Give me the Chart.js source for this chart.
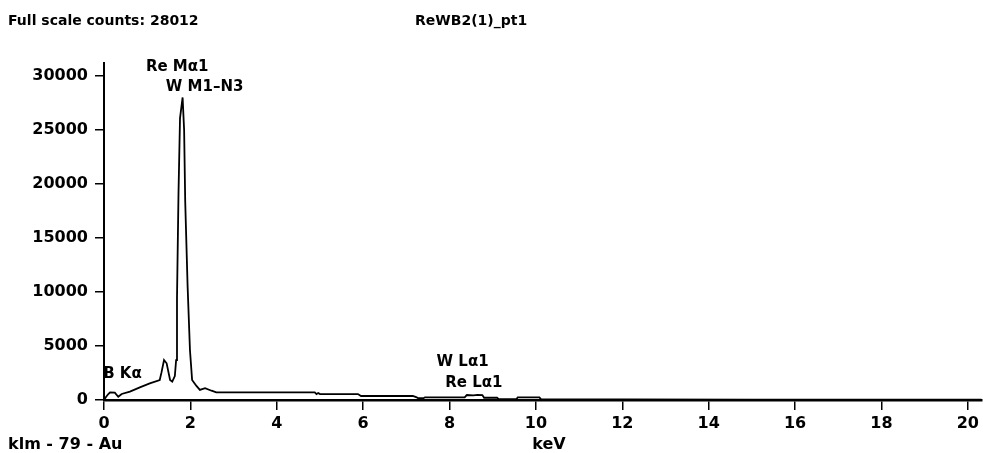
<!DOCTYPE html>
<html>
<head>
<meta charset="utf-8">
<script src="https://cdn.jsdelivr.net/npm/chart.js@4.4.1/dist/chart.umd.min.js"></script>
<style>
  html, body { margin: 0; padding: 0; background: #fff; }
  #wrap { width: 983px; height: 453px; position: relative; }
</style>
</head>
<body>
<div id="wrap"><canvas id="c" width="983" height="453"></canvas></div>
<script>
// ---- data ----
const energyKeV = [
  0.00, 0.05, 0.10, 0.14, 0.25, 0.33, 0.41, 0.60, 0.83, 1.06,
  1.29, 1.33, 1.39, 1.45, 1.53, 1.58, 1.64, 1.67, 1.69, 1.725,
  1.76, 1.82, 1.855, 1.88, 1.935, 1.99, 2.04, 2.14, 2.22, 2.34,
  2.49, 2.60, 3.50, 4.88, 4.92, 4.96, 5.00, 5.88, 5.95, 7.15,
  7.24, 7.27, 7.40, 7.43, 8.35, 8.40, 8.55, 8.65, 8.76, 8.80,
  9.10, 9.14, 9.55, 9.58, 10.08, 10.12, 12.0, 15.0, 20.32
];
const counts = [
  0, 300, 550, 710, 680, 300, 560, 770, 1170, 1540,
  1850, 2530, 3700, 3400, 1850, 1700, 2220, 3700, 9400, 19200,
  26100, 28012, 25000, 18400, 10600, 4630, 1850, 1300, 930, 1100,
  860, 700, 700, 710, 550, 650, 550, 550, 370, 370,
  250, 170, 170, 250, 250, 460, 420, 480, 460, 210,
  210, 80, 80, 250, 250, 60, 50, 40, 30
];
const xTickValues = [0, 2, 4, 6, 8, 10, 12, 14, 16, 18, 20];
const yTickValues = [0, 5000, 10000, 15000, 20000, 25000, 30000];
const peakLabels = ["Re M\u03b11", "W M1\u2013N3", "B K\u03b1", "W L\u03b11", "Re L\u03b11"];
const peakEnergies = [0.97, 1.43, -0.02, 7.7, 7.9];
const peakCounts = [30830, 28980, 2410, 3520, 1570];
const fullScale = 28012;
const sampleName = "ReWB2(1)_pt1";
const footerLeft = "klm - 79 - Au";
const unitLabel = "keV";

// ---- chart ----
const FONT = '"DejaVu Sans", sans-serif';
const points = energyKeV.map((e, i) => ({ x: e, y: counts[i] }));

const textPlugin = {
  id: 'texts',
  afterDraw(chart) {
    const ctx = chart.ctx;
    const xs = chart.scales.x, ys = chart.scales.y;
    ctx.save();
    ctx.fillStyle = '#000';
    ctx.textBaseline = 'middle';
    ctx.textAlign = 'left';
    ctx.font = 'bold 14px ' + FONT;
    ctx.fillText('Full scale counts: ' + fullScale, 8, 21);
    ctx.fillText(sampleName, 415, 21);
    ctx.font = 'bold 16px ' + FONT;
    ctx.fillText(footerLeft, 8, 445);
    ctx.textAlign = 'center';
    ctx.fillText(unitLabel, xs.getPixelForValue(10.3), 445);
    ctx.textAlign = 'left';
    ctx.font = 'bold 15px ' + FONT;
    for (let i = 0; i < peakLabels.length; i++) {
      ctx.fillText(peakLabels[i], xs.getPixelForValue(peakEnergies[i]), ys.getPixelForValue(peakCounts[i]));
    }
    ctx.restore();
  }
};

new Chart(document.getElementById('c'), {
  type: 'line',
  data: {
    datasets: [{
      data: points,
      borderColor: '#000',
      borderWidth: 1.8,
      pointRadius: 0,
      tension: 0,
      fill: false
    }]
  },
  options: {
    responsive: false,
    animation: false,
    events: [],
    layout: { padding: { left: 0, top: 63, right: 0, bottom: 0 } },
    plugins: { legend: { display: false }, tooltip: { enabled: false }, title: { display: false } },
    scales: {
      x: {
        type: 'linear',
        min: 0,
        max: 20.32,
        afterFit(s) { s.height = 53; },
        afterBuildTicks(s) { s.ticks = xTickValues.map(v => ({ value: v })); },
        border: { display: true, color: '#000', width: 2.5 },
        grid: { display: true, drawOnChartArea: false, drawTicks: true, tickLength: 10, color: '#000', lineWidth: 1.5 },
        ticks: { color: '#000', font: { family: FONT, size: 16, weight: 'bold' }, padding: 4, maxRotation: 0, autoSkip: false,
                 callback: v => String(v) }
      },
      y: {
        type: 'linear',
        min: 0,
        max: 31200,
        afterFit(s) { s.width = 104; },
        afterBuildTicks(s) { s.ticks = yTickValues.map(v => ({ value: v })); },
        border: { display: true, color: '#000', width: 2 },
        grid: { display: true, drawOnChartArea: false, drawTicks: true, tickLength: 9, color: '#000', lineWidth: 1.5 },
        ticks: { color: '#000', font: { family: FONT, size: 16, weight: 'bold' }, padding: 7, autoSkip: false,
                 callback: v => String(v) }
      }
    }
  },
  plugins: [textPlugin]
});
</script>
</body>
</html>
